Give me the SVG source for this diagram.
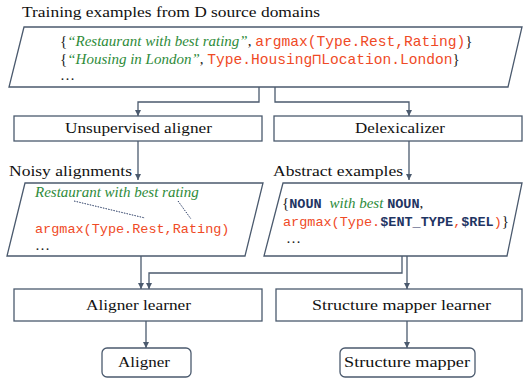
<svg xmlns="http://www.w3.org/2000/svg" width="523" height="381" viewBox="0 0 523 381">
<style>
.shape{fill:#ffffff;stroke:#4b5a6e;stroke-width:1.3}
.conn{fill:none;stroke:#4b5a6e;stroke-width:1.3}
.lbl{font-family:"Liberation Serif","Times New Roman",serif;font-size:15px;fill:#111111}
.ser{font-family:"Liberation Serif",serif;font-size:15px;fill:#1a1a1a}
.it{font-family:"Liberation Serif",serif;font-style:italic;font-size:15px;fill:#2e8b3a}
.mono{font-family:"Liberation Mono",monospace;fill:#ef4a26}
.nb{font-family:"Liberation Mono",monospace;font-weight:bold;fill:#1f3563}
.dot{fill:none;stroke:#2c3e66;stroke-width:1;stroke-dasharray:1.5 1.2}
</style>
<defs>
<marker id="ah" viewBox="0 0 8 8" refX="8" refY="4" markerWidth="6" markerHeight="6" markerUnits="userSpaceOnUse" orient="auto">
<path d="M0,0 L8,4 L0,8 z" fill="#4b5a6e"/>
</marker>
</defs>
<rect width="523" height="381" fill="#ffffff"/>

<g id="title"><text class="lbl" x="22" y="17" textLength="298" lengthAdjust="spacingAndGlyphs">Training examples from D source domains</text></g>

<g id="training-examples">
<polygon class="shape" points="24,27 522,27 508,87 9,87"/>
<text x="60" y="46"><tspan class="ser">{</tspan><tspan class="it">“Restaurant with best rating”</tspan><tspan class="ser">, </tspan><tspan class="mono" font-size="14.6px">argmax(Type.Rest,Rating)</tspan><tspan class="ser">}</tspan></text>
<text x="60" y="64"><tspan class="ser">{</tspan><tspan class="it">“Housing in London”</tspan><tspan class="ser">, </tspan><tspan class="mono" font-size="14.6px">Type.Housing⊓Location.London</tspan><tspan class="ser">}</tspan></text>
<text class="ser" x="60" y="80">…</text>
</g>

<g id="unsupervised-aligner">
<rect class="shape" x="14" y="116" width="248" height="25"/>
<text class="lbl" x="65" y="133" textLength="147" lengthAdjust="spacingAndGlyphs">Unsupervised aligner</text>
</g>

<g id="delexicalizer">
<rect class="shape" x="274" y="116" width="248" height="25"/>
<text class="lbl" x="355" y="133" textLength="90" lengthAdjust="spacingAndGlyphs">Delexicalizer</text>
</g>

<g id="noisy-alignments-label"><text class="lbl" x="9" y="176" textLength="123" lengthAdjust="spacingAndGlyphs">Noisy alignments</text></g>
<g id="abstract-examples-label"><text class="lbl" x="273" y="176" textLength="130" lengthAdjust="spacingAndGlyphs">Abstract examples</text></g>

<g id="noisy-alignments">
<polygon class="shape" points="25,183 263,183 245,256 7,256"/>
<text class="it" x="35" y="197">Restaurant with best rating</text>
<text class="mono" x="35" y="233" font-size="13.5px">argmax(Type.Rest,Rating)</text>
<text class="ser" x="35" y="250">…</text>
<line class="dot" x1="74" y1="201" x2="145" y2="218"/>
<line class="dot" x1="178" y1="201" x2="191" y2="219"/>
</g>

<g id="abstract-examples">
<polygon class="shape" points="283,183 522,183 507,256 264,256"/>
<text x="282" y="208"><tspan class="ser">{</tspan><tspan class="nb" font-size="13.5px">NOUN</tspan><tspan class="it" dx="8">with best</tspan><tspan class="ser"> </tspan><tspan class="nb" font-size="13.5px">NOUN</tspan><tspan class="ser">,</tspan></text>
<text x="283" y="226" font-size="13.5px"><tspan class="mono">argmax(Type.</tspan><tspan class="nb">$ENT_TYPE</tspan><tspan class="mono">,</tspan><tspan class="nb">$REL</tspan><tspan class="mono">)</tspan><tspan class="ser">}</tspan></text>
<text class="ser" x="286" y="243">…</text>
</g>

<g id="aligner-learner">
<rect class="shape" x="14" y="289" width="248" height="32"/>
<text class="lbl" x="86" y="310" textLength="105" lengthAdjust="spacingAndGlyphs">Aligner learner</text>
</g>

<g id="structure-mapper-learner">
<rect class="shape" x="276" y="289" width="246" height="32"/>
<text class="lbl" x="312" y="310" textLength="179" lengthAdjust="spacingAndGlyphs">Structure mapper learner</text>
</g>

<g id="aligner">
<rect class="shape" x="102" y="348" width="89" height="29" rx="5"/>
<text class="lbl" x="118" y="367" textLength="52" lengthAdjust="spacingAndGlyphs">Aligner</text>
</g>

<g id="structure-mapper">
<rect class="shape" x="340" y="348" width="135" height="29" rx="5"/>
<text class="lbl" x="344" y="367" textLength="126" lengthAdjust="spacingAndGlyphs">Structure mapper</text>
</g>

<g id="connectors">
<path class="conn" marker-end="url(#ah)" d="M259,87 V102 H138 V116"/>
<path class="conn" marker-end="url(#ah)" d="M275,87 V102 H409 V116"/>
<path class="conn" marker-end="url(#ah)" d="M138,141 V180"/>
<path class="conn" marker-end="url(#ah)" d="M409,141 V180"/>
<path class="conn" marker-end="url(#ah)" d="M141,256 V289"/>
<path class="conn" marker-end="url(#ah)" d="M402,256 V273 H149 V289"/>
<path class="conn" marker-end="url(#ah)" d="M407,256 V289"/>
<path class="conn" marker-end="url(#ah)" d="M146,321 V348"/>
<path class="conn" marker-end="url(#ah)" d="M407,321 V348"/>
</g>
</svg>
